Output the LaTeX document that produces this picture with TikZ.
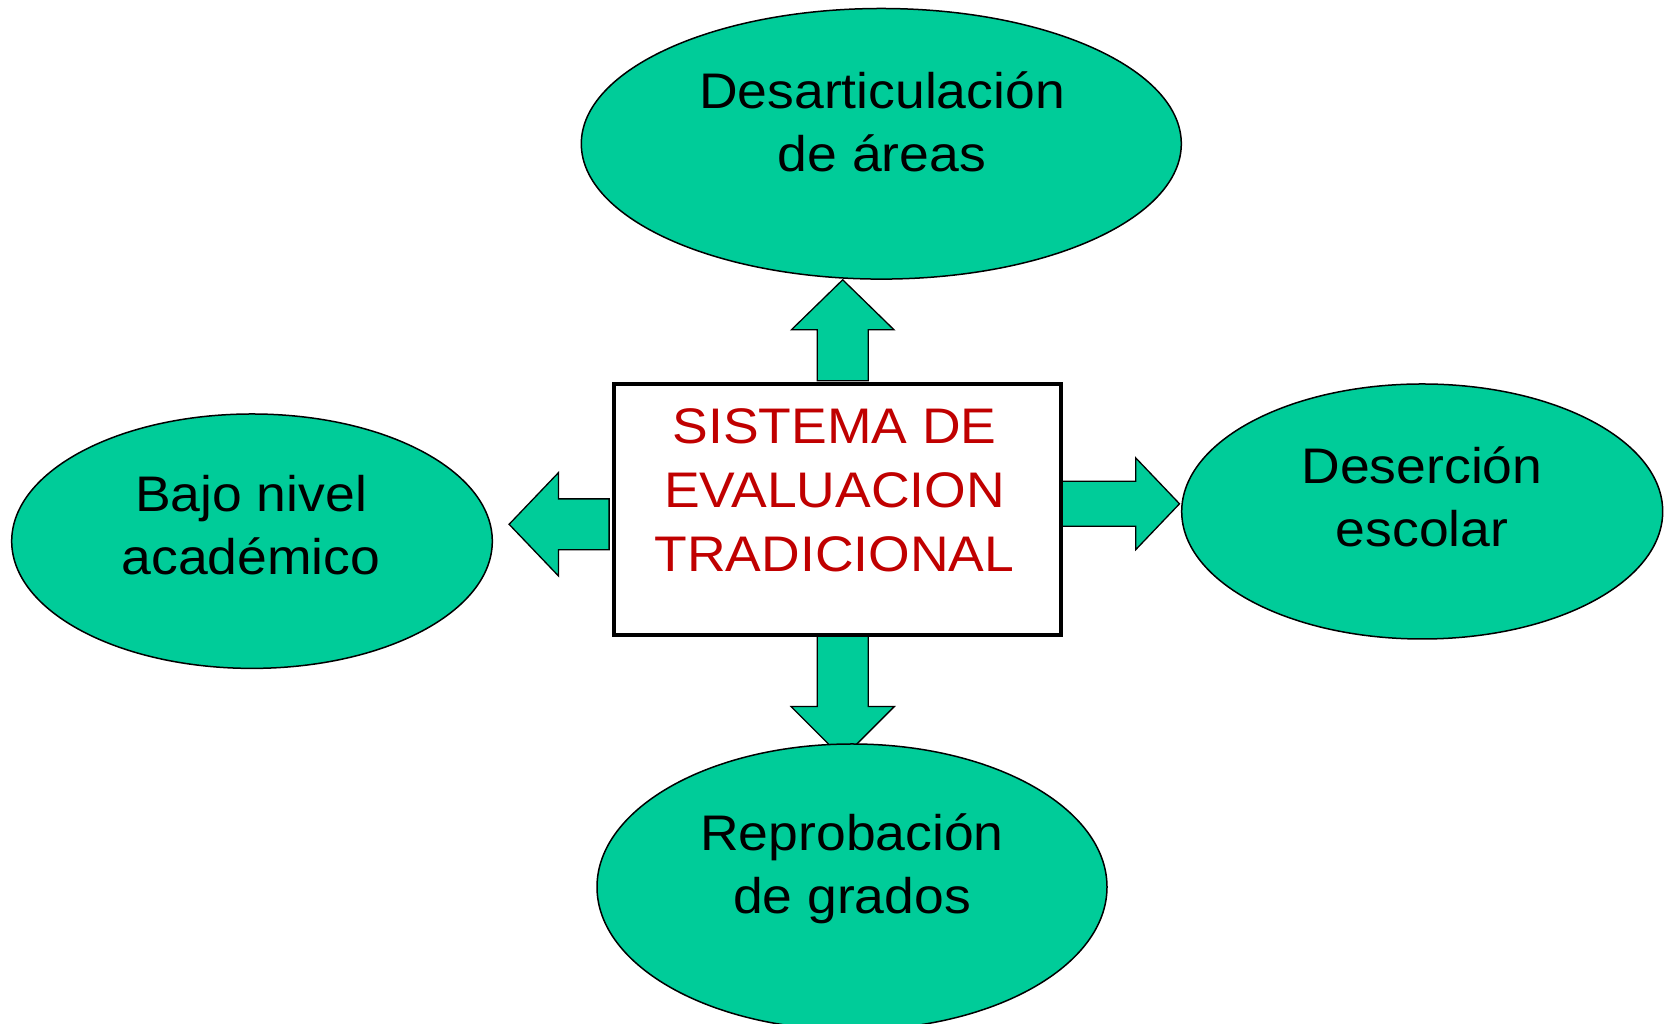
\documentclass[tikz,border=0pt]{standalone}
\usepackage{fontspec}
\setmainfont{Liberation Sans}[FakeStretch=1.07]
\usetikzlibrary{shapes.geometric}
\definecolor{seagreen}{RGB}{0,204,153}
\definecolor{deepred}{RGB}{192,0,0}

% start, angle, length, head length, head half width, shaft half width
\newcommand{\fatarrow}[6]{\draw[block arrow,shift={(#1)},rotate=#2] (0,-#6) -- ({#3-#4},-#6) -- ({#3-#4},-#5) -- (#3,0) -- ({#3-#4},#5) -- ({#3-#4},#6) -- (0,#6) -- cycle;}

\begin{document}
\begin{tikzpicture}[x=1pt,y=1pt,font=\fontsize{50}{63.5}\selectfont]
    \tikzstyle{green ellipse}=[ellipse,draw,line width=1.5,fill=seagreen,inner sep=0]
    \tikzstyle{ellipse text}=[anchor=base,align=center,inner sep=0]
    \tikzstyle{block arrow}=[draw,line width=1.3,fill=seagreen,line join=miter]
    \useasboundingbox (0,0) rectangle (1669,1024);

    \node(box)[rectangle,minimum width=447,minimum height=251,inner sep=0] at (837.5,514.5){};

    % arrows first, ellipses and box go on top
    \fatarrow{[shift={(5.2,3)}]box.north}{90}{101}{50}{51.3}{25.5}
    \fatarrow{[shift={(5.2,-1)}]box.south}{-90}{122}{51.6}{51.6}{25.5}
    \fatarrow{[shift={(-4.7,-14.8)}]box.west}{180}{100}{49.4}{51.7}{25.4}
    \fatarrow{[shift={(0,5.7)}]box.east}{0}{118.3}{43.7}{45.8}{22.5}

    \node(areas)[green ellipse,minimum width=600,minimum height=270.6] at (881.3,880.2){};
    \node(bajo)[green ellipse,minimum width=480.6,minimum height=254.4] at (252,482.8){};
    \node(desercion)[green ellipse,minimum width=481,minimum height=255] at (1422.2,512.5){};
    \node(reprobacion)[green ellipse,minimum width=510,minimum height=286] at (852,137){};

    \draw[line width=4,fill=white] (box.south west) rectangle (box.north east);

    % base = baseline of the last line
    \node(areas text)[ellipse text] at (882,852.3){Desarticulación\\de áreas};
    \node(bajo text)[ellipse text] at (251,449){Bajo nivel\\académico};
    \node(desercion text)[ellipse text] at (1422,477.3){Deserción\\escolar};
    \node(reprobacion text)[ellipse text] at (852,110){Reprobación\\de grados};

    \node(title)[ellipse text,text=deepred,font=\fontsize{50}{64}\selectfont] at (834.5,452.3)
        {SISTEMA DE\\EVALUACION\\TRADICIONAL};
\end{tikzpicture}
\end{document}
